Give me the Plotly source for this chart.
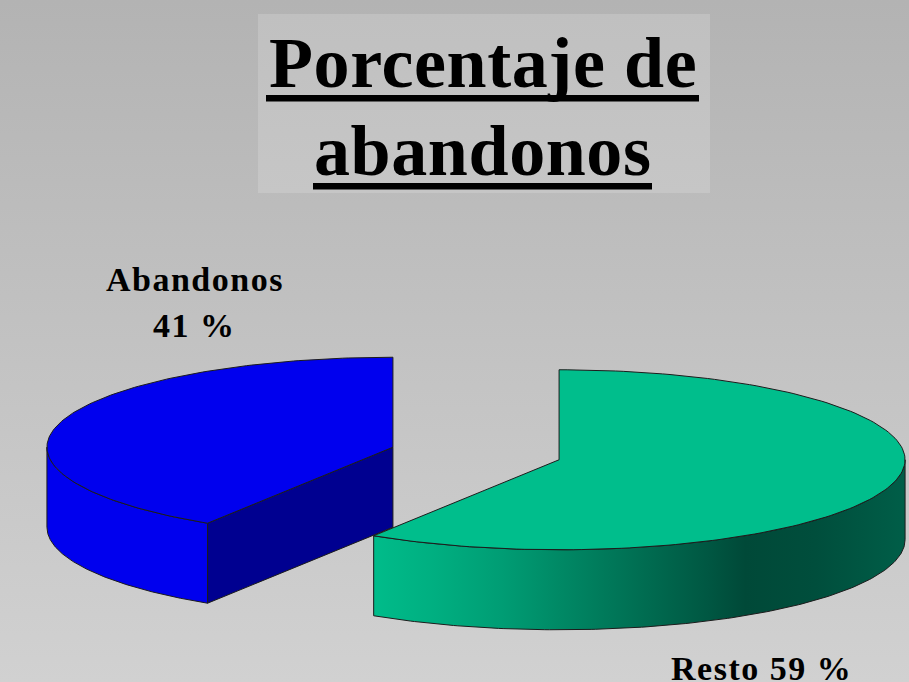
import numpy as np
import plotly.graph_objects as go

# ---- data ----
categories = ["Resto", "Abandonos"]
values = [59, 41]
title_lines = ["Porcentaje de", "abandonos"]

# ---- style ----
W, H = 909, 682
top_colors = ["#00be8c", "#0000ee"]
radial_colors = ["#00684e", "#000090"]
curved_scales = [
    [[0.0, "rgb(0,188,138)"], [0.12, "rgb(0,174,128)"], [0.24, "rgb(0,157,116)"],
     [0.35, "rgb(0,137,101)"], [0.50, "rgb(0,110,82)"], [0.63, "rgb(0,87,66)"],
     [0.70, "rgb(0,73,56)"], [0.83, "rgb(0,78,60)"], [1.0, "rgb(0,94,72)"]],
    [[0.0, "#0000ee"], [1.0, "#0000ee"]],
]
OUT = "#1c1c1c"
FONT = "Liberation Serif"

CX, CY = 476, 453.5      # pie base centre (px)
A, B = 346, 90           # ellipse semi-axes (px)
DEPTH = 80               # thickness (px)
EXPLODE = 0.25


def rim(cx, cy, t0, t1, dz=0.0, n=160):
    t = np.radians(np.linspace(t0, t1, n))
    return cx + A * np.sin(t), cy - B * np.cos(t) + dz


fig = go.Figure()

# background gradient
fig.add_trace(go.Scatter(
    x=[0, W, W, 0, 0], y=[0, 0, H, H, 0], mode="none", fill="toself",
    fillgradient=dict(type="vertical", colorscale=[[0, "#b3b3b3"], [1, "#d1d1d1"]],
                      start=0, stop=H),
    hoverinfo="skip", showlegend=False))

# title box
bx0, bx1, by0, by1 = 258, 710, 14, 193
fig.add_trace(go.Scatter(
    x=[bx0, bx1, bx1, bx0, bx0], y=[by0, by0, by1, by1, by0], mode="none", fill="toself",
    fillgradient=dict(type="vertical", colorscale=[[0, "#c0c0c0"], [1, "#c6c6c6"]],
                      start=by0, stop=by1),
    hoverinfo="skip", showlegend=False))

# ---- slices ----
total = float(sum(values))
slices = []
start = 0.0
for i, v in enumerate(values):
    span = 360.0 * v / total
    t0, t1 = start, start + span
    mid = np.radians((t0 + t1) / 2)
    cx = CX + EXPLODE * A * np.sin(mid)
    cy = CY - EXPLODE * B * np.cos(mid)
    slices.append((i, t0, t1, cx, cy))
    start = t1

# painter's order: back (smaller y) first
for i, t0, t1, cx, cy in sorted(slices, key=lambda s: s[4]):
    # radial faces
    for t, sign in ((t0, -1), (t1, 1)):
        if sign * np.sin(np.radians(t)) > 1e-6:
            rx, ry = rim(cx, cy, t, t, n=1)
            xs = [cx, rx[0], rx[0], cx, cx]
            ys = [cy, ry[0], ry[0] + DEPTH, cy + DEPTH, cy]
            fig.add_trace(go.Scatter(
                x=xs, y=ys, mode="lines", fill="toself", fillcolor=radial_colors[i],
                line=dict(color=OUT, width=1), hoverinfo="skip", showlegend=False))
    # curved outer side (front half only: 90..270 deg)
    a0, a1 = max(t0, 90.0), min(t1, 270.0)
    if a1 > a0:
        ux, uy = rim(cx, cy, a0, a1)
        lx, ly = rim(cx, cy, a1, a0, dz=DEPTH)
        xs = np.concatenate([ux, lx, ux[:1]])
        ys = np.concatenate([uy, ly, uy[:1]])
        fig.add_trace(go.Scatter(
            x=xs, y=ys, mode="lines", fill="toself",
            fillgradient=dict(type="horizontal", colorscale=curved_scales[i],
                              start=float(xs.min()), stop=float(xs.max())),
            line=dict(color=OUT, width=1), hoverinfo="skip", showlegend=False))
    # top face
    ux, uy = rim(cx, cy, t0, t1)
    xs = np.concatenate([[cx], ux, [cx]])
    ys = np.concatenate([[cy], uy, [cy]])
    fig.add_trace(go.Scatter(
        x=xs, y=ys, mode="lines", fill="toself", fillcolor=top_colors[i],
        line=dict(color=OUT, width=1), hoverinfo="skip", showlegend=False))

# ---- text ----
ann = []
# title
for txt, yy in zip(title_lines, [62.7, 150.7]):
    ann.append(dict(x=483, y=yy,
                    text=f'<span style="letter-spacing:0.6px"><b>{txt}</b></span>',
                    showarrow=False, xanchor="center", yanchor="middle",
                    font=dict(family=FONT, size=72, color="black")))


def lab(txt):
    return f'<span style="letter-spacing:1.5px"><b>{txt}</b></span>'


ia = categories.index("Abandonos")
ir = categories.index("Resto")
LS = 34
ann.append(dict(x=194.5, y=279.5, text=lab(categories[ia]), showarrow=False,
                xanchor="center", yanchor="middle",
                font=dict(family=FONT, size=LS, color="black")))
ann.append(dict(x=194.5, y=325.5, text=lab(f"{values[ia]} %"), showarrow=False,
                xanchor="center", yanchor="middle",
                font=dict(family=FONT, size=LS, color="black")))
ann.append(dict(x=761.5, y=668.5, text=lab(f"{categories[ir]} {values[ir]} %"), showarrow=False,
                xanchor="center", yanchor="middle",
                font=dict(family=FONT, size=LS, color="black")))

shapes = [
    dict(type="rect", x0=266, x1=699, y0=95, y1=101.5, fillcolor="black", line=dict(width=0)),
    dict(type="rect", x0=313, x1=652, y0=183, y1=189.5, fillcolor="black", line=dict(width=0)),
]

fig.update_layout(
    width=W, height=H, margin=dict(l=0, r=0, t=0, b=0, pad=0),
    paper_bgcolor="#c4c4c4", plot_bgcolor="#c4c4c4",
    xaxis=dict(range=[0, W], visible=False, fixedrange=True),
    yaxis=dict(range=[H, 0], visible=False, fixedrange=True),
    annotations=ann, shapes=shapes, showlegend=False,
)

fig.write_html("out.html", config={"displayModeBar": False})
